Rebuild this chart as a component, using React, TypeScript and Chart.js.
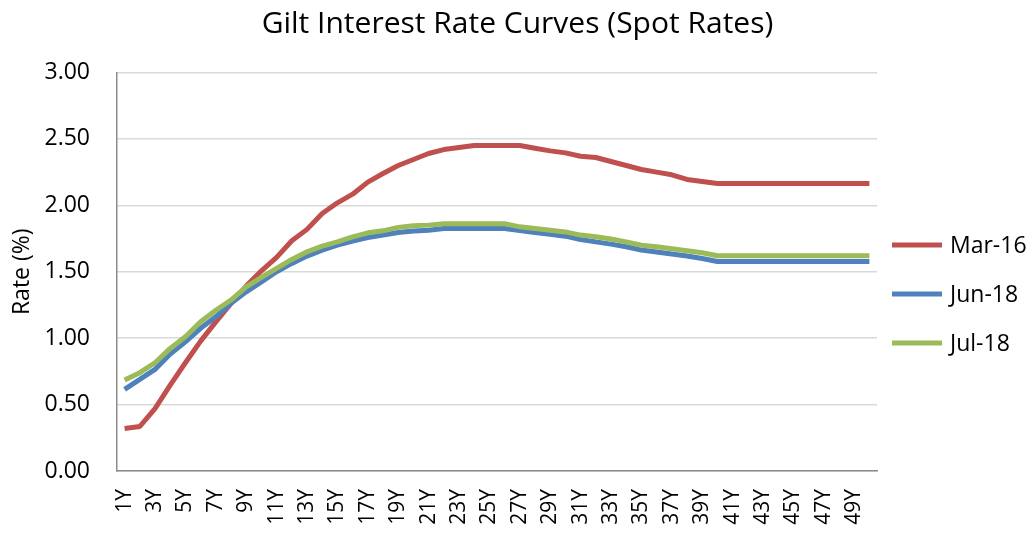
import React, { useEffect, useRef } from "react";
import { Chart, registerables } from "chart.js";

Chart.register(...registerables);

const tenors: string[] = Array.from({ length: 50 }, (_, i) => `${i + 1}Y`);

const mar16: number[] = [
  0.32, 0.335, 0.47, 0.647, 0.815, 0.978, 1.123, 1.262, 1.392, 1.507,
  1.608, 1.733, 1.819, 1.939, 2.019, 2.084, 2.175, 2.24, 2.3, 2.345,
  2.39, 2.42, 2.435, 2.45, 2.45, 2.45, 2.45, 2.43, 2.41, 2.395,
  2.37, 2.36, 2.33, 2.3, 2.27, 2.25, 2.23, 2.195, 2.18, 2.165,
  2.165, 2.165, 2.165, 2.165, 2.165, 2.165, 2.165, 2.165, 2.165, 2.165,
];

const jun18: number[] = [
  0.615, 0.69, 0.765, 0.88, 0.973, 1.074, 1.161, 1.262, 1.349, 1.424,
  1.5, 1.563, 1.618, 1.663, 1.7, 1.731, 1.758, 1.776, 1.796, 1.806,
  1.813, 1.826, 1.826, 1.826, 1.826, 1.826, 1.81, 1.796, 1.783, 1.768,
  1.743, 1.725, 1.708, 1.688, 1.663, 1.648, 1.633, 1.618, 1.6, 1.577,
  1.577, 1.577, 1.577, 1.577, 1.577, 1.577, 1.577, 1.577, 1.577, 1.577,
];

const jul18: number[] = [
  0.685, 0.74, 0.815, 0.923, 1.01, 1.123, 1.21, 1.287, 1.387, 1.457,
  1.525, 1.593, 1.65, 1.693, 1.725, 1.763, 1.793, 1.808, 1.834, 1.846,
  1.851, 1.862, 1.862, 1.862, 1.862, 1.862, 1.838, 1.826, 1.813, 1.8,
  1.776, 1.763, 1.746, 1.725, 1.7, 1.688, 1.673, 1.658, 1.643, 1.62,
  1.62, 1.62, 1.62, 1.62, 1.62, 1.62, 1.62, 1.62, 1.62, 1.62,
];

const seriesNames = ["Mar-16", "Jun-18", "Jul-18"];
const seriesColors = ["#C0504D", "#4F81BD", "#9BBB59"];
const yTicks = { min: 0, max: 3, step: 0.5 };

const FONT = "'Open Sans', 'DejaVu Sans', sans-serif";

const legendPlugin = {
  id: "sideLegend",
  afterDraw(chart: any) {
    const { ctx, chartArea } = chart;
    const x0 = chartArea.right + 15;
    const lineW = 50;
    const yStart = chartArea.top + 172.5;
    const gap = 49;
    ctx.save();
    ctx.font = `23px ${FONT}`;
    ctx.textBaseline = "middle";
    ctx.textAlign = "left";
    chart.data.datasets.forEach((ds: any, i: number) => {
      const y = yStart + i * gap;
      ctx.strokeStyle = ds.borderColor;
      ctx.lineWidth = 5;
      ctx.beginPath();
      ctx.moveTo(x0, y);
      ctx.lineTo(x0 + lineW, y);
      ctx.stroke();
      ctx.fillStyle = "#000";
      ctx.fillText(ds.label, x0 + lineW + 8, y + 1);
    });
    ctx.restore();
  },
};

export default function App() {
  const ref = useRef<HTMLCanvasElement | null>(null);

  useEffect(() => {
    if (!ref.current) return;
    const seriesData = [mar16, jun18, jul18];
    const chart = new Chart(ref.current, {
      type: "line",
      data: {
        labels: tenors,
        datasets: seriesData.map((d, i) => ({
          label: seriesNames[i],
          data: d,
          borderColor: seriesColors[i],
          backgroundColor: seriesColors[i],
          borderWidth: 5,
          pointRadius: 0,
          pointHoverRadius: 0,
          tension: 0,
          fill: false,
          borderJoinStyle: "round" as const,
          order: 2 - i,
          yAxisID: "y",
        })),
      },
      options: {
        responsive: false,
        animation: false,
        layout: { padding: { left: 0, right: 0, top: 0, bottom: 0 } },
        plugins: {
          legend: { display: false },
          tooltip: { enabled: false },
          title: {
            display: true,
            text: "Gilt Interest Rate Curves (Spot Rates)",
            color: "#000",
            font: { family: FONT, size: 30, weight: "normal" },
            padding: { top: 6, bottom: 30.5 },
          },
        },
        scales: {
          x: {
            type: "category",
            offset: true,
            grid: { display: false, drawTicks: false },
            border: { display: true, color: "#8c8c8c", width: 1.5 },
            ticks: {
              autoSkip: false,
              minRotation: 90,
              maxRotation: 90,
              padding: 18,
              color: "#000",
              font: { family: FONT, size: 21 },
              callback: (_v: any, i: number) => (i % 2 === 0 ? tenors[i] : ""),
            },
            afterFit: (s: any) => {
              s.height = 62;
            },
          },
          y: {
            min: yTicks.min,
            max: yTicks.max,
            grid: { color: "#d9d9d9", lineWidth: 1.5, drawTicks: false },
            border: { display: true, color: "#8c8c8c", width: 1.5 },
            ticks: {
              stepSize: yTicks.step,
              padding: 27,
              color: "#000",
              font: { family: FONT, size: 23 },
              callback: (v: any) => Number(v).toFixed(2),
            },
            title: {
              display: true,
              text: "Rate (%)",
              color: "#000",
              font: { family: FONT, size: 23 },
              padding: { top: 9, bottom: 0 },
            },
            afterFit: (s: any) => {
              s.width = 117;
            },
          },
          legendSpace: {
            type: "linear",
            position: "right",
            display: true,
            grid: { display: false, drawTicks: false },
            border: { display: false },
            ticks: { display: false },
            afterFit: (s: any) => {
              s.width = 158;
            },
          },
        },
      },
      plugins: [legendPlugin],
    });
    return () => chart.destroy();
  }, []);

  return (
    <div style={{ position: "fixed", left: 0, top: 0, width: 1035, height: 533, background: "#fff" }}>
      <canvas ref={ref} width={1035} height={533} />
    </div>
  );
}
